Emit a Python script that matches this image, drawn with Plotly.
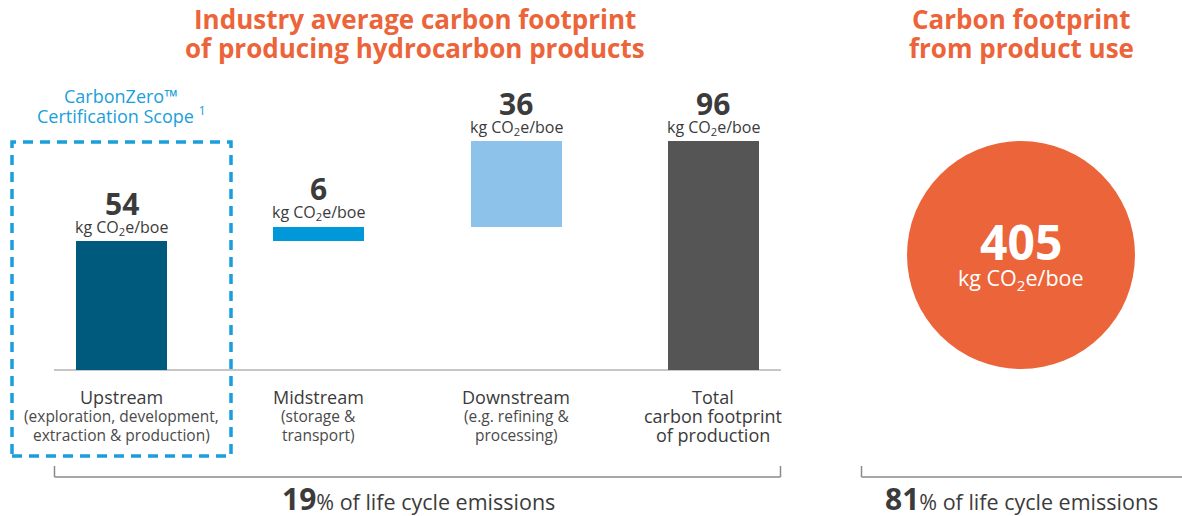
import plotly.graph_objects as go

# ---- data ----
stages = ["Upstream", "Midstream", "Downstream", "Total"]
stage_values = [54, 6, 36, 96]
stage_kinds = ["relative", "relative", "relative", "total"]
stage_label_main = [
    ["Upstream"],
    ["Midstream"],
    ["Downstream"],
    ["Total", "carbon footprint", "of production"],
]
stage_label_sub = [
    ["(exploration, development,", "extraction & production)"],
    ["(storage &", "transport)"],
    ["(e.g. refining &", "processing)"],
    [],
]
use_value = 405
production_share = 19
use_share = 81
unit = "kg CO<sub>2</sub>e/boe"
title_left = ["Industry average carbon footprint", "of producing hydrocarbon products"]
title_right = ["Carbon footprint", "from product use"]
scope_label = ["CarbonZero™", "Certification Scope <sup>1</sup>"]

# ---- styling ----
W, H = 1182, 516
FONT = "Open Sans"
ORANGE = "#EC6439"
TEXT = "#3b3b3b"
SUBTEXT = "#4a4a4a"
BLUE_DASH = "#1A9FDB"
bar_colors = ["#005A7D", "#0098D8", "#8DC3EA", "#555555"]

# bases computed from cumulative values
bases, tops = [], []
run = 0
for v, k in zip(stage_values, stage_kinds):
    if k == "total":
        bases.append(0)
        tops.append(v)
    else:
        bases.append(run)
        run += v
        tops.append(run)

xs = list(range(len(stages)))
px_per_cat = 197.3
x0_px = 121.5
xr0 = -x0_px / px_per_cat
xr1 = xr0 + W / px_per_cat
px_per_unit = 2.385
base_px_from_bottom = H - 370
yr0 = -base_px_from_bottom / px_per_unit
yr1 = yr0 + H / px_per_unit

def xpx(p):
    return (p - x0_px) / px_per_cat

def ypx(p):
    return (370 - p) / px_per_unit

fig = go.Figure()
fig.add_trace(go.Bar(
    x=xs, y=stage_values, base=bases, width=0.462,
    marker=dict(color=bar_colors, line=dict(width=0)),
    hoverinfo="skip", showlegend=False,
))

# circle for product use
cx, cy = xpx(1021), ypx(255)
fig.add_trace(go.Scatter(
    x=[cx], y=[cy], mode="markers",
    marker=dict(size=228, color=ORANGE, line=dict(width=0)),
    hoverinfo="skip", showlegend=False,
))

ann = []

def ptext(xp, yp, text, size, color, **kw):
    ann.append(dict(x=xp / W, y=1 - yp / H, xref="paper", yref="paper", text=text,
                    showarrow=False, yanchor="middle", xanchor="center",
                    font=dict(size=size, color=color, family=FONT), **kw))

for x, top, v in zip(xs, tops, stage_values):
    ann.append(dict(x=x, y=top, text=f"<b>{v}</b>", showarrow=False,
                    yshift=38, font=dict(size=30, color=TEXT, family=FONT)))
    ann.append(dict(x=x, y=top, text=unit, showarrow=False,
                    yshift=14, font=dict(size=16, color=TEXT, family=FONT)))

line_y = [397, 416, 435]
for x, mains, subs in zip(xs, stage_label_main, stage_label_sub):
    i = 0
    for t in mains:
        ann.append(dict(x=x, y=ypx(line_y[i]), text=t, showarrow=False, yanchor="middle",
                        font=dict(size=18, color=TEXT, family=FONT)))
        i += 1
    for t in subs:
        ann.append(dict(x=x, y=ypx(line_y[i]), text=t, showarrow=False, yanchor="middle",
                        font=dict(size=15.5, color=SUBTEXT, family=FONT)))
        i += 1

ann.append(dict(x=cx, y=cy, text=f"<b>{use_value}</b>", showarrow=False, yshift=14,
                font=dict(size=48, color="white", family=FONT)))
ann.append(dict(x=cx, y=cy, text=unit, showarrow=False, yshift=-24,
                font=dict(size=21.5, color="white", family=FONT)))

# titles
for yp, t in zip([19, 48], title_left):
    ptext(415, yp, f"<b>{t}</b>", 26, ORANGE)
for yp, t in zip([19, 48], title_right):
    ptext(1021, yp, f"<b>{t}</b>", 26, ORANGE)
for yp, t in zip([96, 115], scope_label):
    ptext(121, yp, t, 18, BLUE_DASH)

# footers
ptext(418, 498, f"<b><span style='font-size:30px'>{production_share}</span></b>% of life cycle emissions",
      21.5, TEXT)
ptext(1021, 498, f"<b><span style='font-size:30px'>{use_share}</span></b>% of life cycle emissions",
      21.5, TEXT)

shapes = []
# baseline
shapes.append(dict(type="line", xref="x", yref="y", x0=xpx(54), x1=xpx(781), y0=0, y1=0,
                   line=dict(color="#c6c6c6", width=2), layer="below"))
# dashed certification box
shapes.append(dict(type="rect", xref="paper", yref="paper",
                   x0=12 / W, x1=231 / W, y0=1 - 456 / H, y1=1 - 142 / H,
                   line=dict(color=BLUE_DASH, width=3.5, dash="10px,7px")))
# brackets
gray = "#8a8a8a"
def bracket(xa, xb, right_tick=True):
    pts = [dict(type="line", xref="paper", yref="paper", x0=xa / W, x1=xb / W,
                y0=1 - 477 / H, y1=1 - 477 / H, line=dict(color=gray, width=1.5)),
           dict(type="line", xref="paper", yref="paper", x0=xa / W, x1=xa / W,
                y0=1 - 466 / H, y1=1 - 477 / H, line=dict(color=gray, width=1.5))]
    if right_tick:
        pts.append(dict(type="line", xref="paper", yref="paper", x0=xb / W, x1=xb / W,
                        y0=1 - 466 / H, y1=1 - 477 / H, line=dict(color=gray, width=1.5)))
    return pts
shapes += bracket(54.5, 780.5)
shapes += bracket(861.5, 1182, right_tick=False)

fig.update_layout(
    width=W, height=H,
    margin=dict(l=0, r=0, t=0, b=0),
    paper_bgcolor="white", plot_bgcolor="white",
    xaxis=dict(range=[xr0, xr1], visible=False, fixedrange=True),
    yaxis=dict(range=[yr0, yr1], visible=False, fixedrange=True),
    annotations=ann, shapes=shapes,
    font=dict(family=FONT),
    bargap=0,
)

fig.write_html("out.html", config={"displayModeBar": False},
               post_script="document.body.style.margin='0';document.body.style.overflow='hidden';")
